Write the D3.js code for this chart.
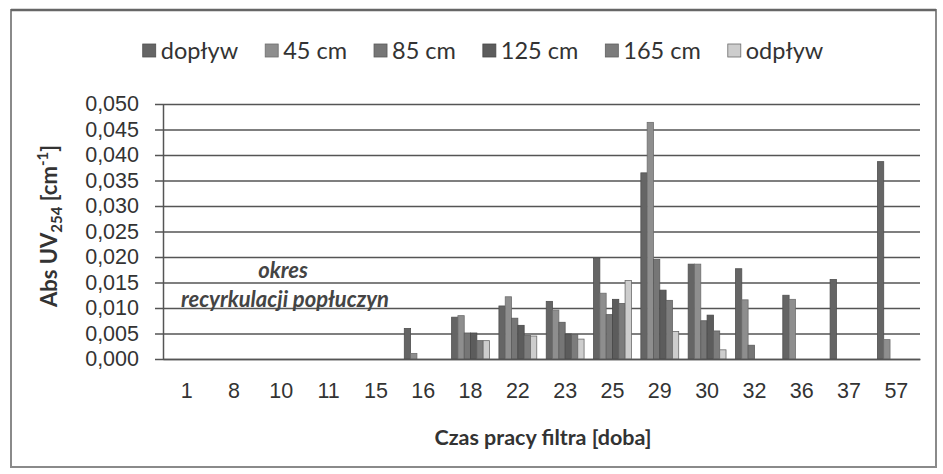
<!DOCTYPE html>
<html lang="pl">
<head>
<meta charset="UTF-8">
<title>Abs UV254</title>
<script src="https://d3js.org/d3.v7.min.js"></script>
<style>
    body {
        margin: 0;
        padding: 0;
        background-color: #ffffff;
    }
    svg {
        display: block;
        font-family: Lato, "Open Sans", sans-serif;
        fill: #3a3a3a;
    }
</style>
</head>
<body>
<svg id="chart" width="943" height="474"></svg>
<script>
// categories (doba) and series values, in 1/cm
const days = ["1", "8", "10", "11", "15", "16", "18", "22", "23", "25", "29", "30", "32", "36", "37", "57"];
const seriesNames = ["dopływ", "45 cm", "85 cm", "125 cm", "165 cm", "odpływ"];
const doplyw = [0, 0, 0, 0, 0, 0.0060, 0.0082, 0.0104, 0.0113, 0.0197, 0.0365, 0.0186, 0.0177, 0.0125, 0.0156, 0.0387];
const cm45   = [0, 0, 0, 0, 0, 0.0011, 0.0085, 0.0122, 0.0096, 0.0129, 0.0464, 0.0186, 0.0116, 0.0117, 0, 0.0038];
const cm85   = [0, 0, 0, 0, 0, 0, 0.0051, 0.0080, 0.0072, 0.0087, 0.0195, 0.0075, 0.0027, 0, 0, 0];
const cm125  = [0, 0, 0, 0, 0, 0, 0.0051, 0.0066, 0.0049, 0.0117, 0.0135, 0.0086, 0, 0, 0, 0];
const cm165  = [0, 0, 0, 0, 0, 0, 0.0036, 0.0046, 0.0048, 0.0109, 0.0115, 0.0055, 0, 0, 0, 0];
const odplyw = [0, 0, 0, 0, 0, 0, 0.0036, 0.0045, 0.0039, 0.0154, 0.0054, 0.0018, 0, 0, 0, 0];
const yTicks = [0, 0.005, 0.01, 0.015, 0.02, 0.025, 0.03, 0.035, 0.04, 0.045, 0.05];

const allSeries = [doplyw, cm45, cm85, cm125, cm165, odplyw];
const fills = ["#656565", "#8e8e8e", "#767676", "#5c5c5c", "#7c7c7c", "#cdcdcd"];
const strokes = ["#505050", "#6e6e6e", "#5a5a5a", "#484848", "#606060", "#6a6a6a"];

const svg = d3.select('#chart');
const margin = { left: 163, right: 920, top: 104, bottom: 359 };

// polish number format with comma
const pl = d3.formatLocale({ decimal: ",", thousands: " ", grouping: [3], currency: ["", " zł"] });
const fmt = pl.format(".3f");

// outer frame
svg.append('rect')
    .attr('x', 11).attr('y', 10)
    .attr('width', 925).attr('height', 457)
    .attr('fill', 'none')
    .attr('stroke', '#8a8a8a')
    .attr('stroke-width', 2);
svg.append('line')
    .attr('x1', 11).attr('x2', 936)
    .attr('y1', 10).attr('y2', 10)
    .attr('stroke', '#666')
    .attr('stroke-width', 2.5);

const x = d3.scaleBand()
    .domain(days)
    .range([margin.left, margin.right])
    .paddingInner(1.5 / 7.5)
    .paddingOuter(0.75 / 7.5);

const x1 = d3.scaleBand()
    .domain(d3.range(seriesNames.length))
    .range([0, x.bandwidth()]);

const y = d3.scaleLinear()
    .domain([0, 0.05])
    .range([margin.bottom, margin.top]);

// gridlines + y axis
const yAxis = d3.axisLeft(y)
    .tickValues(yTicks)
    .tickFormat(fmt)
    .tickSize(-(margin.right - margin.left))
    .tickSizeOuter(0)
    .tickPadding(24);

const gy = svg.append('g')
    .attr('transform', `translate(${margin.left},0)`)
    .call(yAxis);
gy.select('.domain').attr('stroke', '#555').attr('stroke-width', 1.5);
gy.selectAll('.tick line')
    .attr('x1', -8)
    .attr('stroke', '#555')
    .attr('stroke-width', 1.5);
gy.selectAll('.tick text')
    .attr('fill', '#333')
    .style('font-size', '21.5px');

// bars
const groups = svg.append('g').selectAll('g')
    .data(days)
    .join('g')
    .attr('transform', d => `translate(${x(d)},0)`);

groups.selectAll('rect')
    .data((d, i) => allSeries.map((s, k) => ({ k: k, v: s[i] })))
    .join('rect')
    .filter(d => d.v > 0)
    .attr('x', d => x1(d.k))
    .attr('y', d => y(d.v))
    .attr('width', x1.bandwidth())
    .attr('height', d => y(0) - y(d.v))
    .attr('fill', d => fills[d.k])
    .attr('stroke', d => strokes[d.k])
    .attr('stroke-width', 0.8);

// x axis
const gx = svg.append('g')
    .attr('transform', `translate(0,${margin.bottom})`)
    .call(d3.axisBottom(x).tickSize(0).tickPadding(24));
gx.select('.domain').attr('stroke', '#555').attr('stroke-width', 1.5);
gx.selectAll('.tick text')
    .attr('fill', '#333')
    .style('font-size', '21.5px');

// axis titles
svg.append('text')
    .attr('x', 543).attr('y', 445)
    .attr('text-anchor', 'middle')
    .style('font-size', '21.5px')
    .style('font-weight', 'bold')
    .attr('fill', '#333')
    .text('Czas pracy filtra [doba]');

const yt = svg.append('text')
    .attr('transform', 'translate(57,226) rotate(-90)')
    .attr('text-anchor', 'middle')
    .style('font-size', '22px')
    .style('font-weight', 'bold')
    .attr('fill', '#333');
yt.append('tspan').text('Abs UV');
yt.append('tspan').attr('dy', 5).style('font-size', '15px').text('254');
yt.append('tspan').attr('dy', -5).text(' [cm');
yt.append('tspan').attr('dy', -9).style('font-size', '15px').text('-1');
yt.append('tspan').attr('dy', 9).text(']');

// annotation
const note = svg.append('text')
    .attr('text-anchor', 'middle')
    .style('font-size', '22px')
    .style('font-weight', 'bold')
    .style('font-style', 'italic')
    .attr('fill', '#444');
note.append('tspan').attr('x', 283).attr('y', 278).text('okres');
note.append('tspan').attr('x', 285).attr('y', 307).text('recyrkulacji popłuczyn');

// legend, laid out from text widths and centred
const legend = svg.append('g');
let lx = 0;
seriesNames.forEach((name, k) => {
    const g = legend.append('g');
    g.append('rect')
        .attr('x', 0).attr('y', -7)
        .attr('width', 13).attr('height', 13)
        .attr('fill', fills[k])
        .attr('stroke', strokes[k])
        .attr('stroke-width', 0.8);
    const t = g.append('text')
        .attr('x', 18).attr('dy', '0.35em')
        .style('font-size', '23.5px')
        .attr('fill', '#333')
        .text(name);
    g.attr('transform', `translate(${lx},0)`);
    lx += 18 + t.node().getComputedTextLength() + 27;
});
const legendWidth = lx - 27;
legend.attr('transform', `translate(${483 - legendWidth / 2},51)`);
</script>
</body>
</html>
